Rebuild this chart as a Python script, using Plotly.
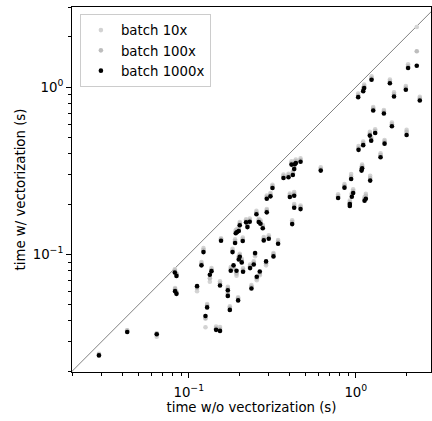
import plotly.graph_objects as go

# time w/o vectorization (s), shared by all series
x_time = [0.0290, 0.0428, 0.0643, 0.0825, 0.0844, 0.0828, 0.0844, 0.1121, 0.1191, 0.1225,
          0.1259, 0.1288, 0.1337, 0.1368, 0.1457, 0.1538, 0.1538, 0.1560, 0.1713, 0.1713,
          0.1761, 0.1784, 0.1828, 0.1853, 0.1893, 0.1911, 0.1946, 0.1931, 0.1974, 0.1992,
          0.2019, 0.1992, 0.2019, 0.2075, 0.2104, 0.2113, 0.2203, 0.2245, 0.2317, 0.2328,
          0.2372, 0.2449, 0.2494, 0.2541, 0.2553, 0.2624, 0.2661, 0.2686, 0.2773, 0.2811,
          0.2902, 0.2930, 0.2930, 0.3012, 0.3083, 0.3170, 0.3214, 0.3425, 0.3690, 0.3953,
          0.4027, 0.4121, 0.4159, 0.4198, 0.4276, 0.4276, 0.4276, 0.4315, 0.4375, 0.4667,
          0.4667, 0.6166, 0.7834, 0.8551, 0.9205, 0.9205, 0.9375, 0.9463, 0.9638, 1.038,
          1.082, 1.091, 1.107, 1.128, 1.148, 1.213, 1.219, 1.236, 1.271, 1.306,
          1.406, 1.472, 1.486, 1.644, 2.014, 2.415, 1.242, 1.122, 1.107, 1.033,
          1.599, 1.992, 1.693, 2.055, 2.316]

# time w/ vectorization (s)
y_batch10 = [0.0255, 0.0352, 0.0322, 0.0815, 0.0770, 0.0630, 0.0600, 0.0603, 0.0900, 0.1090,
             0.0367, 0.0505, 0.0686, 0.0830, 0.0370, 0.0368, 0.0690, 0.1250, 0.0640, 0.0590,
             0.0490, 0.0840, 0.1080, 0.0820, 0.1230, 0.1400, 0.1420, 0.0745, 0.0555, 0.1450,
             0.1560, 0.0975, 0.1010, 0.0940, 0.1260, 0.0825, 0.1620, 0.1520, 0.1640, 0.0870,
             0.0655, 0.0910, 0.0975, 0.1820, 0.0700, 0.1630, 0.0750, 0.1600, 0.1500, 0.1270,
             0.0860, 0.1870, 0.2250, 0.1300, 0.2330, 0.2610, 0.1020, 0.1220, 0.3000, 0.3030,
             0.2310, 0.3600, 0.1600, 0.3130, 0.2360, 0.2000, 0.3400, 0.3620, 0.3690, 0.3750,
             0.1960, 0.3320, 0.2290, 0.2630, 0.2050, 0.2100, 0.3020, 0.2320, 0.2450, 0.4440,
             0.3330, 0.3440, 0.4730, 0.2200, 0.2300, 0.5400, 0.2950, 0.5030, 0.7600, 0.5600,
             0.4020, 0.7300, 0.4830, 0.6150, 0.5550, 0.8750, 1.160, 1.035, 0.9900, 0.9150,
             1.110, 1.015, 0.9300, 1.370, 2.290]

y_batch100 = [0.0252, 0.0350, 0.0338, 0.0800, 0.0760, 0.0620, 0.0590, 0.0630, 0.0880, 0.1060,
              0.0414, 0.0495, 0.0720, 0.0810, 0.0362, 0.0358, 0.0670, 0.1230, 0.0625, 0.0580,
              0.0480, 0.0820, 0.1050, 0.0840, 0.1200, 0.1370, 0.1390, 0.0770, 0.0545, 0.1410,
              0.1530, 0.0955, 0.0990, 0.0920, 0.1230, 0.0805, 0.1590, 0.1490, 0.1600, 0.0850,
              0.0640, 0.0890, 0.1000, 0.1780, 0.0720, 0.1600, 0.0770, 0.1560, 0.1460, 0.1240,
              0.0885, 0.1830, 0.2200, 0.1270, 0.2280, 0.2550, 0.1000, 0.1190, 0.2930, 0.2960,
              0.2260, 0.3520, 0.1560, 0.3060, 0.2300, 0.1950, 0.3320, 0.3540, 0.3600, 0.3670,
              0.1920, 0.3240, 0.2230, 0.2570, 0.2000, 0.2050, 0.2920, 0.2270, 0.2390, 0.4330,
              0.3250, 0.3360, 0.4610, 0.2150, 0.2240, 0.5260, 0.2860, 0.4910, 0.7450, 0.5460,
              0.3920, 0.7150, 0.4720, 0.6000, 0.5400, 0.8550, 1.130, 1.010, 0.9700, 0.8920,
              1.080, 0.9900, 0.9050, 1.330, 1.640]

y_batch1000 = [0.0249, 0.0344, 0.0333, 0.0780, 0.0744, 0.0603, 0.0581, 0.0646, 0.0860, 0.1032,
               0.0428, 0.0482, 0.0755, 0.0794, 0.0354, 0.0349, 0.0652, 0.1206, 0.0611, 0.0565,
               0.0466, 0.0798, 0.1032, 0.0860, 0.1169, 0.1337, 0.1361, 0.0798, 0.0531, 0.1380,
               0.1493, 0.0933, 0.0968, 0.0896, 0.1202, 0.0787, 0.1555, 0.1456, 0.1567, 0.0828,
               0.0625, 0.0871, 0.1018, 0.1738, 0.0735, 0.1560, 0.0791, 0.1524, 0.1432, 0.1213,
               0.0908, 0.1784, 0.2153, 0.1240, 0.2223, 0.2493, 0.0973, 0.1157, 0.2864, 0.2891,
               0.2203, 0.3443, 0.1518, 0.2985, 0.2244, 0.1901, 0.3243, 0.3459, 0.3522, 0.3583,
               0.1866, 0.3170, 0.2173, 0.2506, 0.1945, 0.2000, 0.2825, 0.2213, 0.2328, 0.4217,
               0.3170, 0.3273, 0.4498, 0.2094, 0.2153, 0.5130, 0.2761, 0.4786, 0.7244, 0.5321,
               0.3811, 0.6950, 0.4592, 0.5834, 0.5176, 0.8318, 1.106, 0.9866, 0.9462, 0.8710,
               1.054, 0.9636, 0.8795, 1.300, 1.343]

series_names = ["batch 10x", "batch 100x", "batch 1000x"]
series_colors = ["#d3d3d3", "#bdbdbd", "#000000"]

diag = [0.01, 10.0]

major_ticks = [0.1, 1.0]
major_labels = ["10<sup>\u22121</sup>", "10<sup>0</sup>"]
minor_ticks = [0.02, 0.03, 0.04, 0.05, 0.06, 0.07, 0.08, 0.09,
               0.2, 0.3, 0.4, 0.5, 0.6, 0.7, 0.8, 0.9, 2.0, 3.0]

font_family = "DejaVu Sans"
fs = 13.3

fig = go.Figure()
fig.add_trace(go.Scatter(x=diag, y=diag, mode="lines",
                         line=dict(color="#808080", width=1),
                         showlegend=False, hoverinfo="skip"))
for name, col, ys in zip(series_names, series_colors, [y_batch10, y_batch100, y_batch1000]):
    fig.add_trace(go.Scatter(x=x_time, y=ys, mode="markers", name=name,
                             marker=dict(color=col, size=4.6, line=dict(width=0))))

axis_common = dict(
    type="log", showgrid=False, zeroline=False,
    showline=True, linecolor="black", linewidth=1, mirror=True,
    ticks="outside", ticklen=5, tickwidth=1, tickcolor="black",
    tickvals=major_ticks, ticktext=major_labels,
    tickfont=dict(family=font_family, size=fs, color="black"),
    minor=dict(ticks="outside", ticklen=3, tickwidth=0.8, tickcolor="black",
               tickvals=minor_ticks, showgrid=False),
)

fig.update_layout(
    width=432, height=421,
    margin=dict(l=72, r=1, t=7, b=49),
    paper_bgcolor="white", plot_bgcolor="white",
    font=dict(family=font_family, size=fs, color="black"),
    xaxis=dict(axis_common, range=[-1.699, 0.450], ticklabelstandoff=3,
               title=dict(text="time w/o vectorization (s)", standoff=0,
                          font=dict(family=font_family, size=fs))),
    yaxis=dict(axis_common, range=[-1.703, 0.479],
               title=dict(text="time w/ vectorization (s)", standoff=4,
                          font=dict(family=font_family, size=fs))),
    legend=dict(x=0.022, y=0.981, xanchor="left", yanchor="top",
                bgcolor="rgba(255,255,255,0.8)", bordercolor="#cccccc", borderwidth=1,
                font=dict(family=font_family, size=fs), tracegroupgap=0),
    showlegend=True,
)

fig.write_html("out.html", config={"displayModeBar": False},
               post_script="document.body.style.margin='0';")
